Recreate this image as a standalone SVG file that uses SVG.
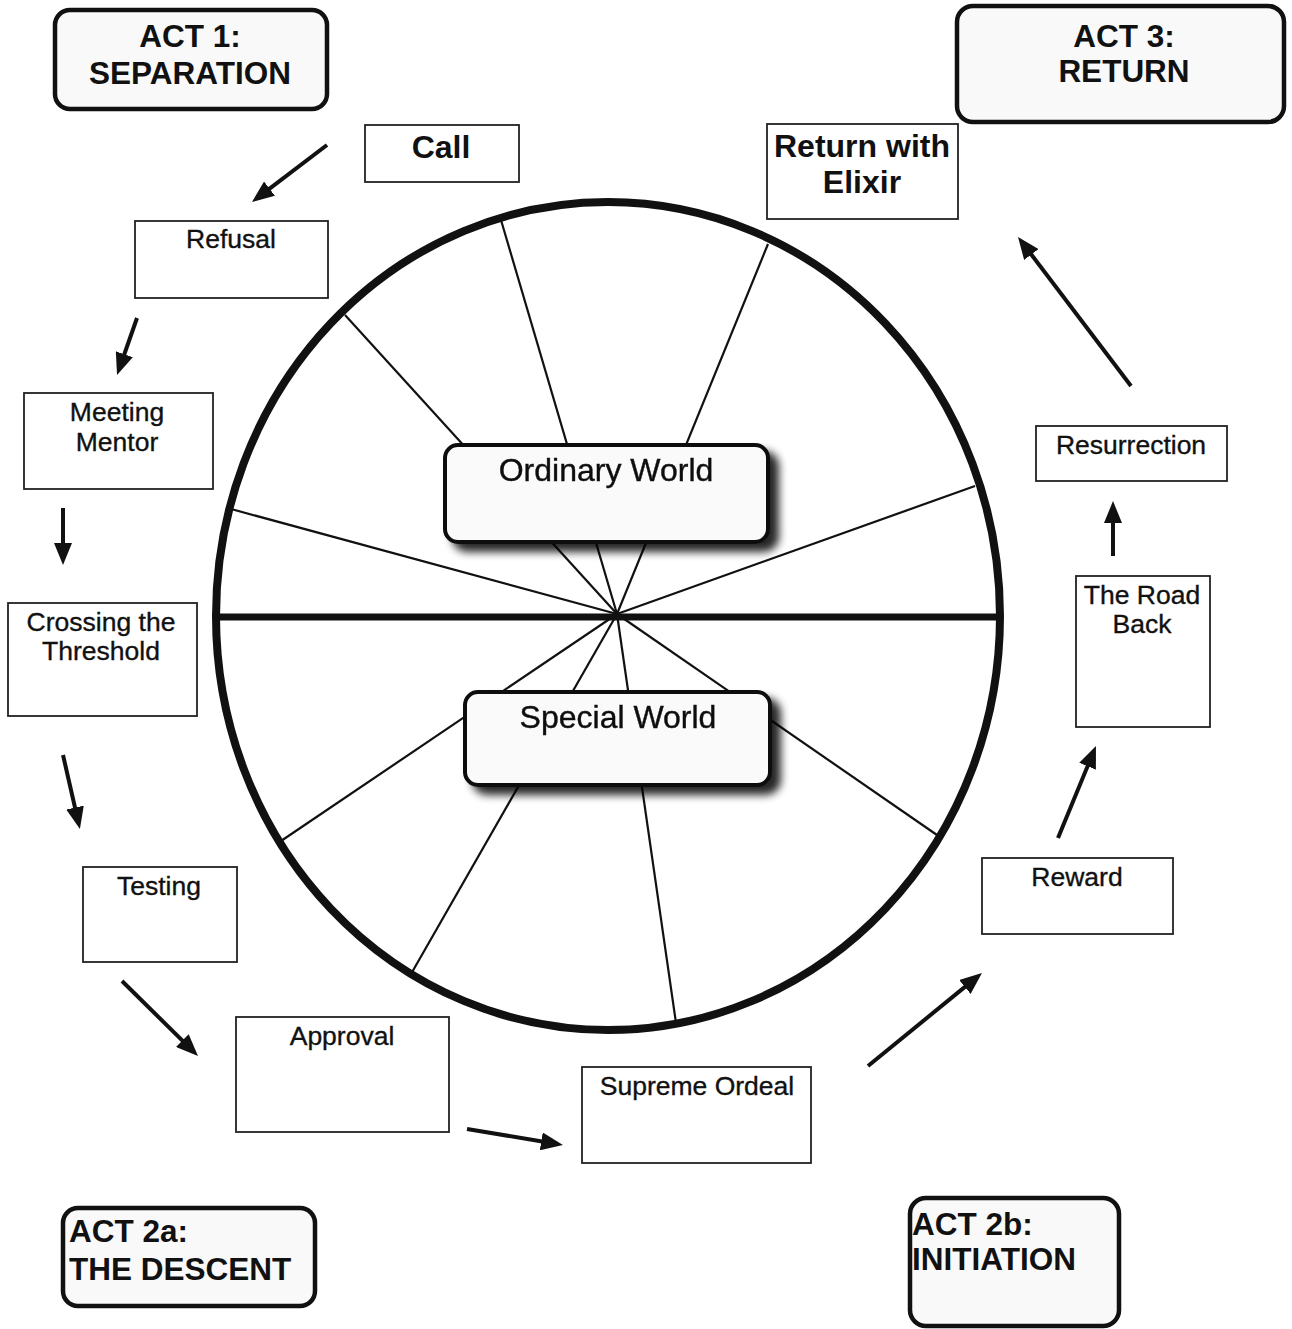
<svg xmlns="http://www.w3.org/2000/svg" width="1292" height="1329" viewBox="0 0 1292 1329">
  <style>
    .act { fill: #f9f9f9; stroke: #111; stroke-width: 4.5; }
    .act-text { font-family: "Liberation Sans", Arial, sans-serif; font-weight: bold; font-size: 31.5px; fill: #111; }
    .stage { fill: #fff; stroke: #222; stroke-width: 1.8; }
    .stage-text { font-family: "Liberation Sans", Arial, sans-serif; font-size: 26.5px; fill: #111; stroke: #111; stroke-width: 0.35; text-anchor: middle; }
    .stage-bold { font-family: "Liberation Sans", Arial, sans-serif; font-size: 32px; font-weight: bold; fill: #111; text-anchor: middle; }
    .world { fill: #fafafa; stroke: #111; stroke-width: 4; }
    .world-text { font-family: "Liberation Sans", Arial, sans-serif; font-size: 32px; fill: #111; stroke: #111; stroke-width: 0.4; text-anchor: middle; }
    .spoke { stroke: #111; stroke-width: 2.2; fill: none; }
    .arrow { stroke: #111; stroke-width: 4; fill: none; marker-end: url(#head); }
  </style>
  <defs>
    <marker id="head" markerUnits="userSpaceOnUse" markerWidth="22" markerHeight="18" refX="4" refY="9" orient="auto">
      <path d="M0,0 L22,9 L0,18 z" fill="#111"/>
    </marker>
    <filter id="drop" x="-10%" y="-20%" width="130%" height="150%">
      <feGaussianBlur in="SourceAlpha" stdDeviation="4"/>
      <feOffset dx="9" dy="8" result="blur"/>
      <feComponentTransfer><feFuncA type="linear" slope="0.85"/></feComponentTransfer>
      <feMerge><feMergeNode/><feMergeNode in="SourceGraphic"/></feMerge>
    </filter>
  </defs>

  <rect width="1292" height="1329" fill="#fff"/>

  <!-- wheel: rim, spokes, horizon -->
  <g id="wheel">
    <g class="spoke">
      <line x1="617" y1="614" x2="231" y2="509"/>
      <line x1="617" y1="614" x2="345" y2="315"/>
      <line x1="617" y1="614" x2="501" y2="220"/>
      <line x1="617" y1="614" x2="768" y2="244"/>
      <line x1="617" y1="614" x2="975" y2="486"/>
      <line x1="617" y1="614" x2="281" y2="841"/>
      <line x1="617" y1="614" x2="411" y2="974"/>
      <line x1="617" y1="614" x2="676" y2="1023"/>
      <line x1="617" y1="614" x2="937" y2="835"/>
    </g>
    <ellipse cx="608" cy="616" rx="392" ry="414" fill="none" stroke="#111" stroke-width="8"/>
    <line x1="214" y1="617" x2="1002" y2="617" stroke="#111" stroke-width="7"/>
  </g>

  <g id="ordinary-world" filter="url(#drop)">
    <rect class="world" x="445" y="445" width="323" height="97" rx="13"/>
    <text class="world-text" x="606" y="481">Ordinary World</text>
  </g>
  <g id="special-world" filter="url(#drop)">
    <rect class="world" x="465" y="692" width="305" height="93" rx="13"/>
    <text class="world-text" x="618" y="728">Special World</text>
  </g>

  <!-- act headings -->
  <g id="act1">
    <rect class="act" x="55" y="10" width="272" height="99" rx="15"/>
    <text class="act-text" x="190" y="47" text-anchor="middle">ACT 1:</text>
    <text class="act-text" x="190" y="84" text-anchor="middle">SEPARATION</text>
  </g>
  <g id="act3">
    <rect class="act" x="957" y="6" width="327" height="116" rx="16"/>
    <text class="act-text" x="1124" y="47" text-anchor="middle">ACT 3:</text>
    <text class="act-text" x="1124" y="82" text-anchor="middle">RETURN</text>
  </g>
  <g id="act2a">
    <rect class="act" x="63" y="1208" width="252" height="98" rx="15"/>
    <text class="act-text" x="69" y="1242">ACT 2a:</text>
    <text class="act-text" x="69" y="1280">THE DESCENT</text>
  </g>
  <g id="act2b">
    <rect class="act" x="910" y="1198" width="209" height="128" rx="16"/>
    <text class="act-text" x="912" y="1235">ACT 2b:</text>
    <text class="act-text" x="912" y="1270">INITIATION</text>
  </g>

  <!-- journey stages -->
  <g id="call">
    <rect class="stage" x="365" y="125" width="154" height="57"/>
    <text class="stage-bold" x="441" y="158">Call</text>
  </g>
  <g id="refusal">
    <rect class="stage" x="135" y="221" width="193" height="77"/>
    <text class="stage-text" x="231" y="248">Refusal</text>
  </g>
  <g id="meeting-mentor">
    <rect class="stage" x="24" y="393" width="189" height="96"/>
    <text class="stage-text" x="117" y="421">Meeting</text>
    <text class="stage-text" x="117" y="451">Mentor</text>
  </g>
  <g id="crossing-threshold">
    <rect class="stage" x="8" y="603" width="189" height="113"/>
    <text class="stage-text" x="101" y="631">Crossing the</text>
    <text class="stage-text" x="101" y="660">Threshold</text>
  </g>
  <g id="testing">
    <rect class="stage" x="83" y="867" width="154" height="95"/>
    <text class="stage-text" x="159" y="895">Testing</text>
  </g>
  <g id="approval">
    <rect class="stage" x="236" y="1017" width="213" height="115"/>
    <text class="stage-text" x="342" y="1045">Approval</text>
  </g>
  <g id="supreme-ordeal">
    <rect class="stage" x="582" y="1067" width="229" height="96"/>
    <text class="stage-text" x="697" y="1095">Supreme Ordeal</text>
  </g>
  <g id="reward">
    <rect class="stage" x="982" y="858" width="191" height="76"/>
    <text class="stage-text" x="1077" y="886">Reward</text>
  </g>
  <g id="road-back">
    <rect class="stage" x="1076" y="576" width="134" height="151"/>
    <text class="stage-text" x="1142" y="604">The Road</text>
    <text class="stage-text" x="1142" y="633">Back</text>
  </g>
  <g id="resurrection">
    <rect class="stage" x="1036" y="426" width="191" height="55"/>
    <text class="stage-text" x="1131" y="454">Resurrection</text>
  </g>
  <g id="return-elixir">
    <rect class="stage" x="767" y="124" width="191" height="95"/>
    <text class="stage-bold" x="862" y="157">Return with</text>
    <text class="stage-bold" x="862" y="193">Elixir</text>
  </g>

  <!-- connectors -->
  <g id="connectors">
    <line class="arrow" x1="327" y1="145" x2="266.3" y2="191.1"/>
    <line class="arrow" x1="137" y1="318" x2="123" y2="358"/>
    <line class="arrow" x1="63" y1="508" x2="63" y2="547"/>
    <line class="arrow" x1="63" y1="755" x2="75.9" y2="811.5"/>
    <line class="arrow" x1="122" y1="981" x2="185.2" y2="1043.4"/>
    <line class="arrow" x1="467" y1="1129" x2="545.2" y2="1142"/>
    <line class="arrow" x1="868" y1="1066" x2="968" y2="984.4"/>
    <line class="arrow" x1="1058" y1="838" x2="1089.1" y2="762.6"/>
    <line class="arrow" x1="1113" y1="556" x2="1113" y2="519"/>
    <line class="arrow" x1="1131" y1="386" x2="1028.9" y2="251.3"/>
  </g>
</svg>
